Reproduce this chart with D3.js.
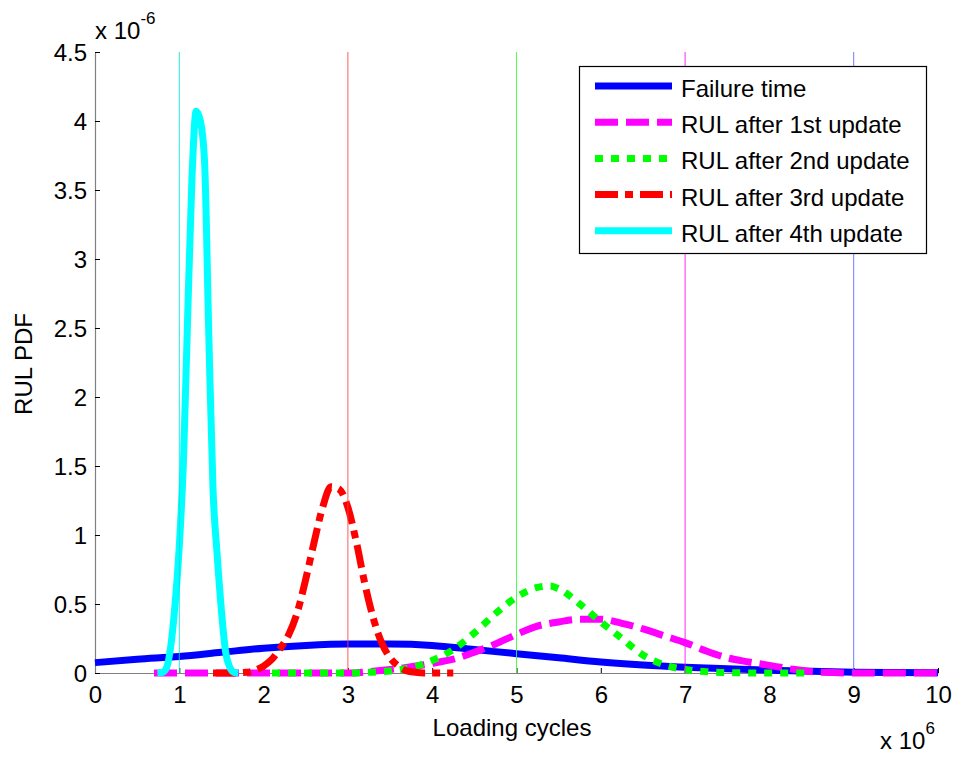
<!DOCTYPE html>
<html><head><meta charset="utf-8">
<script src="https://cdn.jsdelivr.net/npm/d3@7"></script>
<style>body{margin:0;background:#fff}svg{display:block}text{font-family:"Liberation Sans",Arial,sans-serif;fill:#000}</style>
</head><body><svg id="c" width="958" height="757"></svg>
<script>
// x in units of 1e6 cycles, y in units of 1e-6
const xTicks = [0,1,2,3,4,5,6,7,8,9,10];
const yTicks = [0,0.5,1,1.5,2,2.5,3,3.5,4,4.5];
const seriesNames = ["Failure time","RUL after 1st update","RUL after 2nd update","RUL after 3rd update","RUL after 4th update"];
const seriesColors = ["#0000ff","#ff00ff","#00ff00","#ff0000","#00ffff"];
const failX = [0,0.5,1,1.5,2,2.5,3,3.5,4,4.5,5,5.5,6,6.5,7,7.5,8,8.5,9,9.5,10];
const failY = [0.075,0.1,0.12,0.15,0.18,0.2,0.21,0.21,0.2,0.17,0.14,0.11,0.08,0.058,0.042,0.03,0.02,0.012,0.006,0.003,0.001];
const rul1X = [0.7,1,2,3,3.25,3.5,3.75,4,4.25,4.5,4.75,5,5.25,5.5,5.75,6,6.25,6.5,6.75,7,7.25,7.5,7.75,8,8.25,8.5,8.75,9,10];
const rul1Y = [0,0,0,0,0.01,0.025,0.045,0.07,0.1,0.15,0.21,0.28,0.34,0.37,0.39,0.39,0.36,0.32,0.27,0.22,0.16,0.11,0.08,0.055,0.03,0.01,0.003,0,0];
const rul2X = [2.1,2.5,3,3.25,3.5,3.75,4,4.25,4.5,4.75,5,5.25,5.4,5.5,5.75,6,6.25,6.5,6.75,7,7.25,7.5,8,8.5];
const rul2Y = [0,0,0,0.005,0.015,0.04,0.09,0.17,0.29,0.43,0.55,0.62,0.63,0.61,0.5,0.37,0.25,0.13,0.06,0.025,0.01,0.003,0,0];
const rul3X = [1.4,1.6,1.8,1.9,2,2.1,2.2,2.3,2.4,2.5,2.6,2.7,2.8,2.9,3,3.1,3.2,3.3,3.4,3.5,3.6,3.7,3.8,3.9,4.25];
const rul3Y = [0,0,0.005,0.02,0.05,0.1,0.18,0.28,0.44,0.68,0.95,1.2,1.35,1.33,1.2,0.95,0.65,0.4,0.22,0.11,0.05,0.015,0.005,0,0];
const rul4X = [0.74,0.8,0.85,0.9,0.95,1,1.05,1.1,1.15,1.2,1.25,1.3,1.35,1.4,1.45,1.5,1.55,1.6,1.65,1.7];
const rul4Y = [0,0.005,0.04,0.2,0.5,0.92,1.55,2.6,3.58,4.07,4.0,3.7,2.45,1.33,0.85,0.45,0.15,0.04,0.005,0];
const dashes = [null,"23,8","8,8","23,7,8,7",null];
const vLineX = [1,3,5,7,9];
const vLineColors = ["#00e0e0","#ff4040","#30ff30","#ff00ff","#6060ff"];

const FS = 24;
const svg = d3.select("#c");
const x = d3.scaleLinear().domain([0,10]).range([95,938]);
const y = d3.scaleLinear().domain([0,4.5]).range([673,52]);

// axes
const gx = svg.append("g").attr("transform","translate(0,673)")
  .call(d3.axisBottom(x).tickValues(xTicks).tickSizeInner(-5).tickSizeOuter(0).tickPadding(12).tickFormat(d3.format("d")));
const gy = svg.append("g").attr("transform","translate(95,0)")
  .call(d3.axisLeft(y).tickValues(yTicks).tickSizeInner(-5).tickSizeOuter(0).tickPadding(8).tickFormat(d=>String(d)));
[gx,gy].forEach(g=>{
  g.select(".domain").attr("stroke","#808080").attr("stroke-width",1.2);
  g.selectAll(".tick line").attr("stroke","#000");
  g.selectAll(".tick text").attr("font-size",FS).attr("font-family","Liberation Sans, Arial, sans-serif");
});
gx.selectAll(".tick text").attr("dy","0").attr("y",30);
gy.selectAll(".tick text").attr("dy","0.36em");

// right-end small tick
svg.append("path").attr("d",`M${x(10)},${y(0)-4}V${y(0)}`).attr("stroke","#000").attr("fill","none");

// curves
const xs = [failX,rul1X,rul2X,rul3X,rul4X];
const ys = [failY,rul1Y,rul2Y,rul3Y,rul4Y];
const line = d3.line().x(d=>x(d[0])).y(d=>y(d[1])).curve(d3.curveMonotoneX);
xs.forEach((xv,i)=>{
  const data = xv.map((v,j)=>[v,ys[i][j]]);
  svg.append("path").attr("d",line(data)).attr("fill","none")
    .attr("stroke",seriesColors[i]).attr("stroke-width",7)
    .attr("stroke-dasharray",dashes[i]).attr("stroke-linejoin","round");
});

// vertical lines
vLineX.forEach((v,i)=>{
  svg.append("line").attr("x1",x(v)).attr("x2",x(v)).attr("y1",y(4.5)).attr("y2",y(0))
    .attr("stroke",vLineColors[i]).attr("stroke-width",1).attr("stroke-opacity",0.85);
});

// legend
const lg = svg.append("g");
lg.append("rect").attr("x",579.5).attr("y",66.5).attr("width",347).attr("height",187)
  .attr("fill","#fff").attr("stroke","#000").attr("stroke-width",1.2);
seriesNames.forEach((n,i)=>{
  const cy = 86 + i*36.2;
  lg.append("line").attr("x1",595).attr("x2",672).attr("y1",cy).attr("y2",cy)
    .attr("stroke",seriesColors[i]).attr("stroke-width",7).attr("stroke-dasharray",dashes[i]);
  lg.append("text").attr("x",681).attr("y",cy+11).attr("font-size",FS).text(n);
});

// labels
svg.append("text").attr("x",512).attr("y",736).attr("text-anchor","middle").attr("font-size",FS).text("Loading cycles");
svg.append("text").attr("transform","translate(32,364) rotate(-90)").attr("text-anchor","middle").attr("font-size",FS).text("RUL PDF");
const t1 = svg.append("text").attr("x",880).attr("y",749).attr("font-size",FS);
t1.append("tspan").text("x 10");
t1.append("tspan").attr("font-size",17).attr("dy",-15).text("6");
const t2 = svg.append("text").attr("x",95).attr("y",39).attr("font-size",FS);
t2.append("tspan").text("x 10");
t2.append("tspan").attr("font-size",17).attr("dy",-15).text("-6");
</script></body></html>
